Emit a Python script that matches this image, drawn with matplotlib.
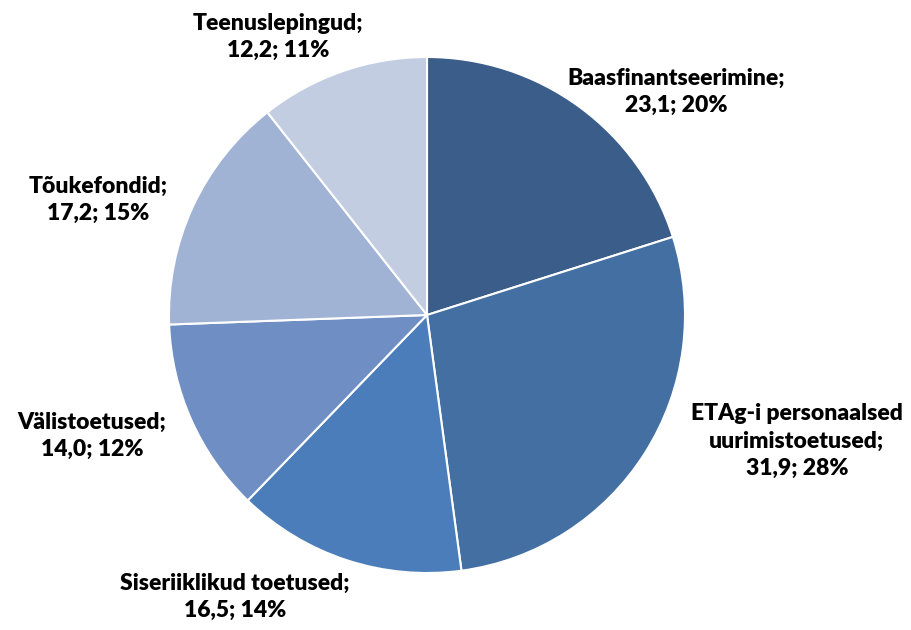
import matplotlib.pyplot as plt

# Data
labels = ["Baasfinantseerimine", "ETAg-i personaalsed\nuurimistoetused", "Siseriiklikud toetused",
          "Välistoetused", "Tõukefondid", "Teenuslepingud"]
values = [23.1, 31.9, 16.5, 14.0, 17.2, 12.2]
percents = [20, 28, 14, 12, 15, 11]
colors = ["#3A5D8A", "#436FA2", "#4A7DBA", "#6F8FC4", "#A0B3D5", "#C3CDE2"]

# label anchor positions (pixels, origin top-left)
label_pos = [(676, 92), (797, 441), (235, 597), (92, 436), (98, 200), (278, 37)]

fig = plt.figure(figsize=(9.11, 6.30), dpi=100)
ax = fig.add_axes([0, 0, 1, 1])
ax.set_aspect("equal")

ax.pie(values, colors=colors, startangle=90, counterclock=False,
       center=(427, 315), radius=258, frame=True,
       wedgeprops=dict(edgecolor="white", linewidth=1.5))
ax.set_xlim(0, 911)
ax.set_ylim(0, 630)
ax.axis("off")

for lab, v, p, (x, y) in zip(labels, values, percents, label_pos):
    txt = "%s;\n%s; %d%%" % (lab, ("%.1f" % v).replace(".", ","), p)
    ax.text(x, 630 - y, txt, ha="center", va="center", fontsize=16.5,
            fontweight="heavy", family="Lato", linespacing=1.38, color="black")

fig.savefig("out.png", dpi=100)
